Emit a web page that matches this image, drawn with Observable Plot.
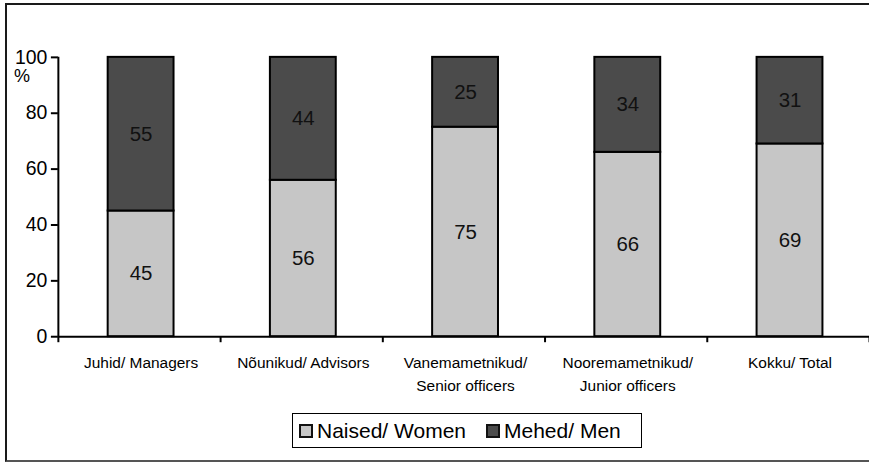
<!DOCTYPE html>
<html>
<head>
<meta charset="utf-8">
<script src="https://cdn.jsdelivr.net/npm/d3@7"></script>
<script src="https://cdn.jsdelivr.net/npm/@observablehq/plot@0.6"></script>
<style>
  body { margin: 0; background: #fff; font-family: "Liberation Sans", Arial, sans-serif; }
  #wrap { position: relative; width: 869px; height: 462px; overflow: hidden; background: #fff; }
  #border { position: absolute; left: 5px; top: 3px; width: 900px; height: 455px;
            border-top: 2px solid #1a1a1a; border-left: 2px solid #1a1a1a; border-bottom: 2px solid #555; }
  #chart { position: absolute; left: 0; top: 0; }
  #pct { position: absolute; left: 14px; top: 67px; font-size: 18px; line-height: 1; color: #000; }
  #legend { position: absolute; left: 292px; top: 413px; width: 348px; height: 33px;
            border: 1px solid #000; display: flex; align-items: center; font-size: 21px; color: #000; }
  .sw { display: inline-block; width: 10px; height: 10px; border: 2px solid #111; margin-right: 4px; }
  .item { display: flex; align-items: center; }
</style>
</head>
<body>
<div id="wrap">
  <div id="border"></div>
  <div id="chart"></div>
  <div id="pct">%</div>
  <div id="legend"></div>
</div>
<script>
const categories = ["Juhid/ Managers", "Nõunikud/ Advisors", "Vanemametnikud/\nSenior officers", "Nooremametnikud/\nJunior officers", "Kokku/ Total"];
const women = [45, 56, 75, 66, 69];
const men = [55, 44, 25, 34, 31];
const seriesNames = ["Naised/ Women", "Mehed/ Men"];
const seriesColors = ["#c6c6c6", "#4b4b4b"];
const yTicks = [0, 20, 40, 60, 80, 100];

const rows = [];
categories.forEach((c, i) => {
  rows.push({i, cat: c, series: seriesNames[0], y1: 0, y2: women[i], value: women[i]});
  rows.push({i, cat: c, series: seriesNames[1], y1: women[i], y2: women[i] + men[i], value: men[i]});
});
const catRows = categories.map((c, i) => ({i, cat: c}));

const plot = Plot.plot({
  width: 871,
  height: 400,
  marginLeft: 58,
  marginRight: 0,
  marginTop: 57,
  marginBottom: 63,
  style: {fontFamily: "'Liberation Sans', Arial, sans-serif", fontSize: "19px", color: "#000", background: "transparent", overflow: "visible"},
  x: {domain: [0, categories.length], axis: null},
  y: {domain: [0, 100], axis: null},
  color: {domain: seriesNames, range: seriesColors},
  marks: [
    Plot.rectY(rows, {x1: d => d.i + 0.307, x2: d => d.i + 0.713, y1: "y1", y2: "y2", fill: "series", stroke: "#000", strokeWidth: 2}),
    Plot.text(rows, {x: d => d.i + 0.51, y: d => (d.y1 + d.y2) / 2, text: d => String(d.value), fontSize: 20.5, fill: "#111"}),
    Plot.axisY({ticks: yTicks, tickSize: 7, tickPadding: 4, fontSize: 19.5, strokeWidth: 2, label: null}),
    Plot.axisX({ticks: d3.range(categories.length + 1), tickFormat: () => "", tickSize: 6, strokeWidth: 2, label: null}),
    Plot.text(catRows, {x: d => d.i + 0.51, y: 0, text: "cat", dy: 15, lineAnchor: "top", lineHeight: 1.5, fontSize: 15.5, fill: "#000"}),
    Plot.ruleY([0], {stroke: "#000", strokeWidth: 2}),
    Plot.ruleX([0], {y1: 0, y2: 100, stroke: "#000", strokeWidth: 2})
  ]
});
document.getElementById("chart").appendChild(plot);

const legend = document.getElementById("legend");
seriesNames.forEach((name, k) => {
  const item = document.createElement("span");
  item.className = "item";
  item.style.marginLeft = k === 0 ? "6px" : "20px";
  const sw = document.createElement("span");
  sw.className = "sw";
  sw.style.background = seriesColors[k];
  item.appendChild(sw);
  item.appendChild(document.createTextNode(name));
  legend.appendChild(item);
});
</script>
</body>
</html>
